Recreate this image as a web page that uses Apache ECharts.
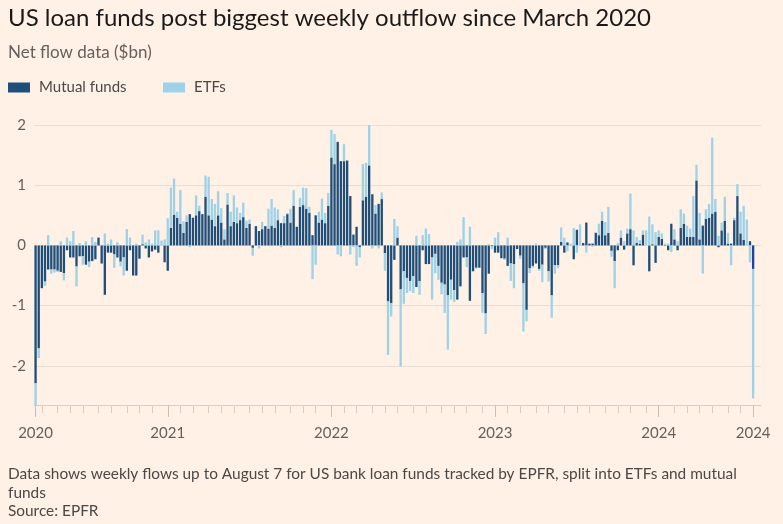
<!DOCTYPE html>
<html>
<head>
<meta charset="utf-8">
<script src="https://cdn.jsdelivr.net/npm/echarts@6/dist/echarts.min.js"></script>
<style>
html,body{margin:0;padding:0;background:#fff1e5;}
#chart{width:783px;height:524px;}
</style>
</head>
<body>
<div id="chart"></div>
<script>
// Weekly flows ($bn), first week 2020-03-18, one bar per week
const firstWeek = '2020-03-18';
const mutualFunds = [
-2.29,-1.71,-0.71,-0.6,-0.4,-0.4,-0.4,-0.42,-0.44,-0.46,
-0.08,-0.2,-0.2,-0.35,-0.18,-0.18,-0.32,-0.27,-0.26,-0.23,
0.13,-0.3,-0.82,-0.12,-0.12,-0.15,-0.2,-0.27,-0.2,-0.42,
-0.08,-0.5,-0.5,-0.22,0.02,-0.05,-0.2,-0.1,-0.07,-0.12,
0,-0.28,-0.42,0.29,0.51,0.46,0.36,0.21,0.39,0.52,
0.46,0.5,0.57,0.52,0.81,0.5,0.43,0.32,0.5,0.38,
0.1,0.68,0.32,0.39,0.37,0.42,0.47,0.29,0.36,-0.04,
0.32,0.24,0.27,0.32,0.28,0.33,0.29,0.42,0.37,0.37,
0.52,0.38,0.66,0.31,0.64,0.67,0.61,0.54,0.17,0.5,
0.38,0.43,0.37,0.66,1.46,1.35,1.72,1.4,1.4,1.41,
0.82,0.18,0.31,-0.03,0.75,0.81,1.33,0.85,0.53,0.69,
0.77,-0.13,-0.93,-0.96,-0.24,0.13,-0.73,-0.43,-0.54,-0.59,
-0.51,-0.69,-0.59,-0.08,-0.31,-0.31,-0.2,-0.14,-0.34,-0.62,
-0.65,-0.83,-0.57,-0.74,-0.9,-0.68,-0.2,-0.2,-0.92,-0.43,
-0.37,-0.37,-0.79,-1.13,-0.47,-0.01,-0.12,-0.12,-0.21,-0.22,
-0.34,-0.3,-0.31,-0.06,-0.17,-0.63,-1.07,-0.38,-0.34,-0.3,
-0.39,-0.32,-0.04,-0.43,-0.83,-0.33,-0.33,0.06,-0.12,0.05,
0,-0.23,0.26,0,0.04,0.38,0.03,0.03,0.21,0.17,
0.41,0.17,0.21,-0.09,-0.26,-0.08,0.13,-0.07,0.2,0.27,
-0.33,0.04,0.03,0.18,0,-0.43,0.02,-0.29,0.14,0.11,
0.01,-0.08,0.36,0.1,-0.08,0.29,0.36,0.14,0.14,0.14,
1.08,0.1,0.33,0.44,0.46,0.53,0.56,-0.03,0.25,0.41,
0.03,0.03,0.42,0.82,0.2,0.09,0,0.07,-0.39
];
const etfs = [
-0.36,-0.16,0,-0.07,0.17,-0.07,-0.05,-0.02,0.07,-0.12,
0.13,0.07,0.24,-0.33,0.04,-0.14,0.07,-0.09,0.14,0.06,
0,0,0.2,0.03,0.1,-0.22,0.05,-0.08,-0.3,0.27,
0.13,0,0.03,0,0.16,0.05,0.1,0.03,0.25,0.25,
0.08,0.1,0.45,0.67,0.6,0.1,0.56,0.19,0.11,-0.03,
0,0.33,0.09,0,0.35,0.64,0.34,0.37,0.4,0.24,
0.17,0.19,0.24,0.44,0.26,0.12,0.24,0.12,0.07,-0.13,
0,-0.05,0.12,0,0.33,0.44,0.34,0.18,-0.03,0.12,
0.02,0.23,0.26,0,0.15,0.29,0.34,0.1,-0.56,-0.32,
0.18,0.35,0.17,0.21,0.46,0.5,-0.15,-0.18,0.28,0,
-0.15,-0.03,-0.34,-0.17,0.6,0.56,0.67,-0.05,0.14,-0.05,
0.11,-0.29,-0.89,-0.22,0.44,0.19,-1.28,-0.54,-0.25,-0.17,
-0.28,0.16,-0.23,0.17,0.28,0.19,-0.7,-0.32,-0.23,-0.19,
-0.47,-0.9,-0.33,-0.2,0.06,0.1,0.47,-0.16,0.31,-0.01,
-0.02,0,-0.33,-0.34,0.02,-0.05,0.13,0.22,-0.01,-0.02,
0.13,-0.29,-0.4,0,-0.05,-0.8,-0.19,-0.08,-0.03,0.03,
-0.03,-0.29,-0.02,-0.17,-0.37,-0.14,-0.05,0.24,0.13,-0.1,
0.03,0.29,-0.12,0.35,0,-0.12,0,-0.02,0,0.19,
0.15,0.22,0.43,-0.1,-0.45,0.04,0.12,0.07,0.08,0.59,
0.25,0.1,0.06,0.07,0.25,0.48,0.33,0.22,0.11,0.09,
0.02,0.03,-0.11,0.17,0.07,0.31,0.17,0.19,0.14,0.68,
0.26,0.44,-0.47,0.16,0.23,1.26,0.21,0.16,0.13,0.4,
0.18,-0.33,0.04,0.2,0.36,0.57,0.43,-0.28,-2.15
];
const yTicks = [-2, -1, 0, 1, 2];
const seriesNames = ['Mutual funds', 'ETFs'];

// weekly category dates
const weeks = [];
{
  const d0 = new Date(firstWeek + 'T00:00:00Z');
  for (let i = 0; i < mutualFunds.length; i++) {
    const d = new Date(d0.getTime() + i * 7 * 86400000);
    weeks.push(d.toISOString().slice(0, 10));
  }
}
const lastIdx = weeks.length - 1;
function isMonthStart(i) {
  if (i > lastIdx) return false;
  if (i === 0) return true;
  return weeks[i].slice(5, 7) !== weeks[i - 1].slice(5, 7);
}
function isYearTick(i) {
  if (i > lastIdx) return false;
  if (i === 0 || i === lastIdx) return true;
  return weeks[i].slice(0, 4) !== weeks[i - 1].slice(0, 4);
}

const FONT = 'Lato, "Noto Sans", sans-serif';
const DARK = '#1f4e7a';
const LIGHT = '#9dd2e8';

const mfData = mutualFunds.map((v, i) => i === lastIdx ? {value: v, itemStyle: {color: '#1f43a0'}} : v);

const chart = echarts.init(document.getElementById('chart'), null, {renderer: 'canvas'});
chart.setOption({
  backgroundColor: '#fff1e5',
  animation: false,
  title: [
    {text: 'US loan funds post biggest weekly outflow since March 2020', left: 3, top: 1,
     textStyle: {fontFamily: FONT, fontSize: 24, fontWeight: 'normal', color: '#1a1a1a'}},
    {text: 'Net flow data ($bn)', left: 3, top: 39,
     textStyle: {fontFamily: FONT, fontSize: 17, fontWeight: 'normal', color: '#66605c'}},
    {text: 'Data shows weekly flows up to August 7 for US bank loan funds tracked by EPFR, split into ETFs and mutual\nfunds\nSource: EPFR',
     left: 3, top: 460,
     textStyle: {fontFamily: FONT, fontSize: 15.4, fontWeight: 'normal', color: '#4d4845', lineHeight: 18.5}}
  ],
  legend: [
    {data: [seriesNames[0]], left: 8, top: 80, padding: 0, itemWidth: 22, itemHeight: 10, icon: 'rect',
     textStyle: {fontFamily: FONT, fontSize: 15, color: '#4d4845', padding: [0, 0, 0, 4]}},
    {data: [seriesNames[1]], left: 163, top: 80, padding: 0, itemWidth: 22, itemHeight: 10, icon: 'rect',
     textStyle: {fontFamily: FONT, fontSize: 15, color: '#4d4845', padding: [0, 0, 0, 4]}}
  ],
  grid: {left: 34, top: 125, width: 727, height: 280, containLabel: false},
  xAxis: [
    {type: 'category', data: weeks, max: 230, boundaryGap: true,
     axisLine: {show: true, onZero: false, lineStyle: {color: '#d9ccc1', width: 1}},
     axisTick: {show: true, alignWithLabel: true, length: 8, interval: (i) => isMonthStart(i),
                lineStyle: {color: '#d9ccc1'}},
     axisLabel: {show: false}, splitLine: {show: false}},
    {type: 'category', data: weeks, max: 230, boundaryGap: true, position: 'bottom',
     axisLine: {show: false, onZero: false},
     axisTick: {show: true, alignWithLabel: true, length: 12, interval: (i) => isYearTick(i),
                lineStyle: {color: '#cdbfb3'}},
     axisLabel: {show: true, interval: (i) => isYearTick(i), margin: 21,
                 formatter: (v) => v ? v.slice(0, 4) : '',
                 fontFamily: FONT, fontSize: 15, color: '#66605c'},
     splitLine: {show: false}}
  ],
  yAxis: {
    type: 'value', min: -2.65, max: 2,
    axisLine: {show: false}, axisTick: {show: false, customValues: yTicks},
    axisLabel: {customValues: yTicks, margin: 8, fontFamily: FONT, fontSize: 15, color: '#66605c'},
    splitLine: {show: true, lineStyle: {color: '#eaded3', width: 1}}
  },
  series: [
    {name: seriesNames[0], type: 'bar', stack: 'flow', xAxisIndex: 0, data: mfData,
     barCategoryGap: '26%', itemStyle: {color: DARK}},
    {name: seriesNames[1], type: 'bar', stack: 'flow', xAxisIndex: 0, data: etfs,
     barCategoryGap: '26%', itemStyle: {color: LIGHT}}
  ]
});
</script>
</body>
</html>
